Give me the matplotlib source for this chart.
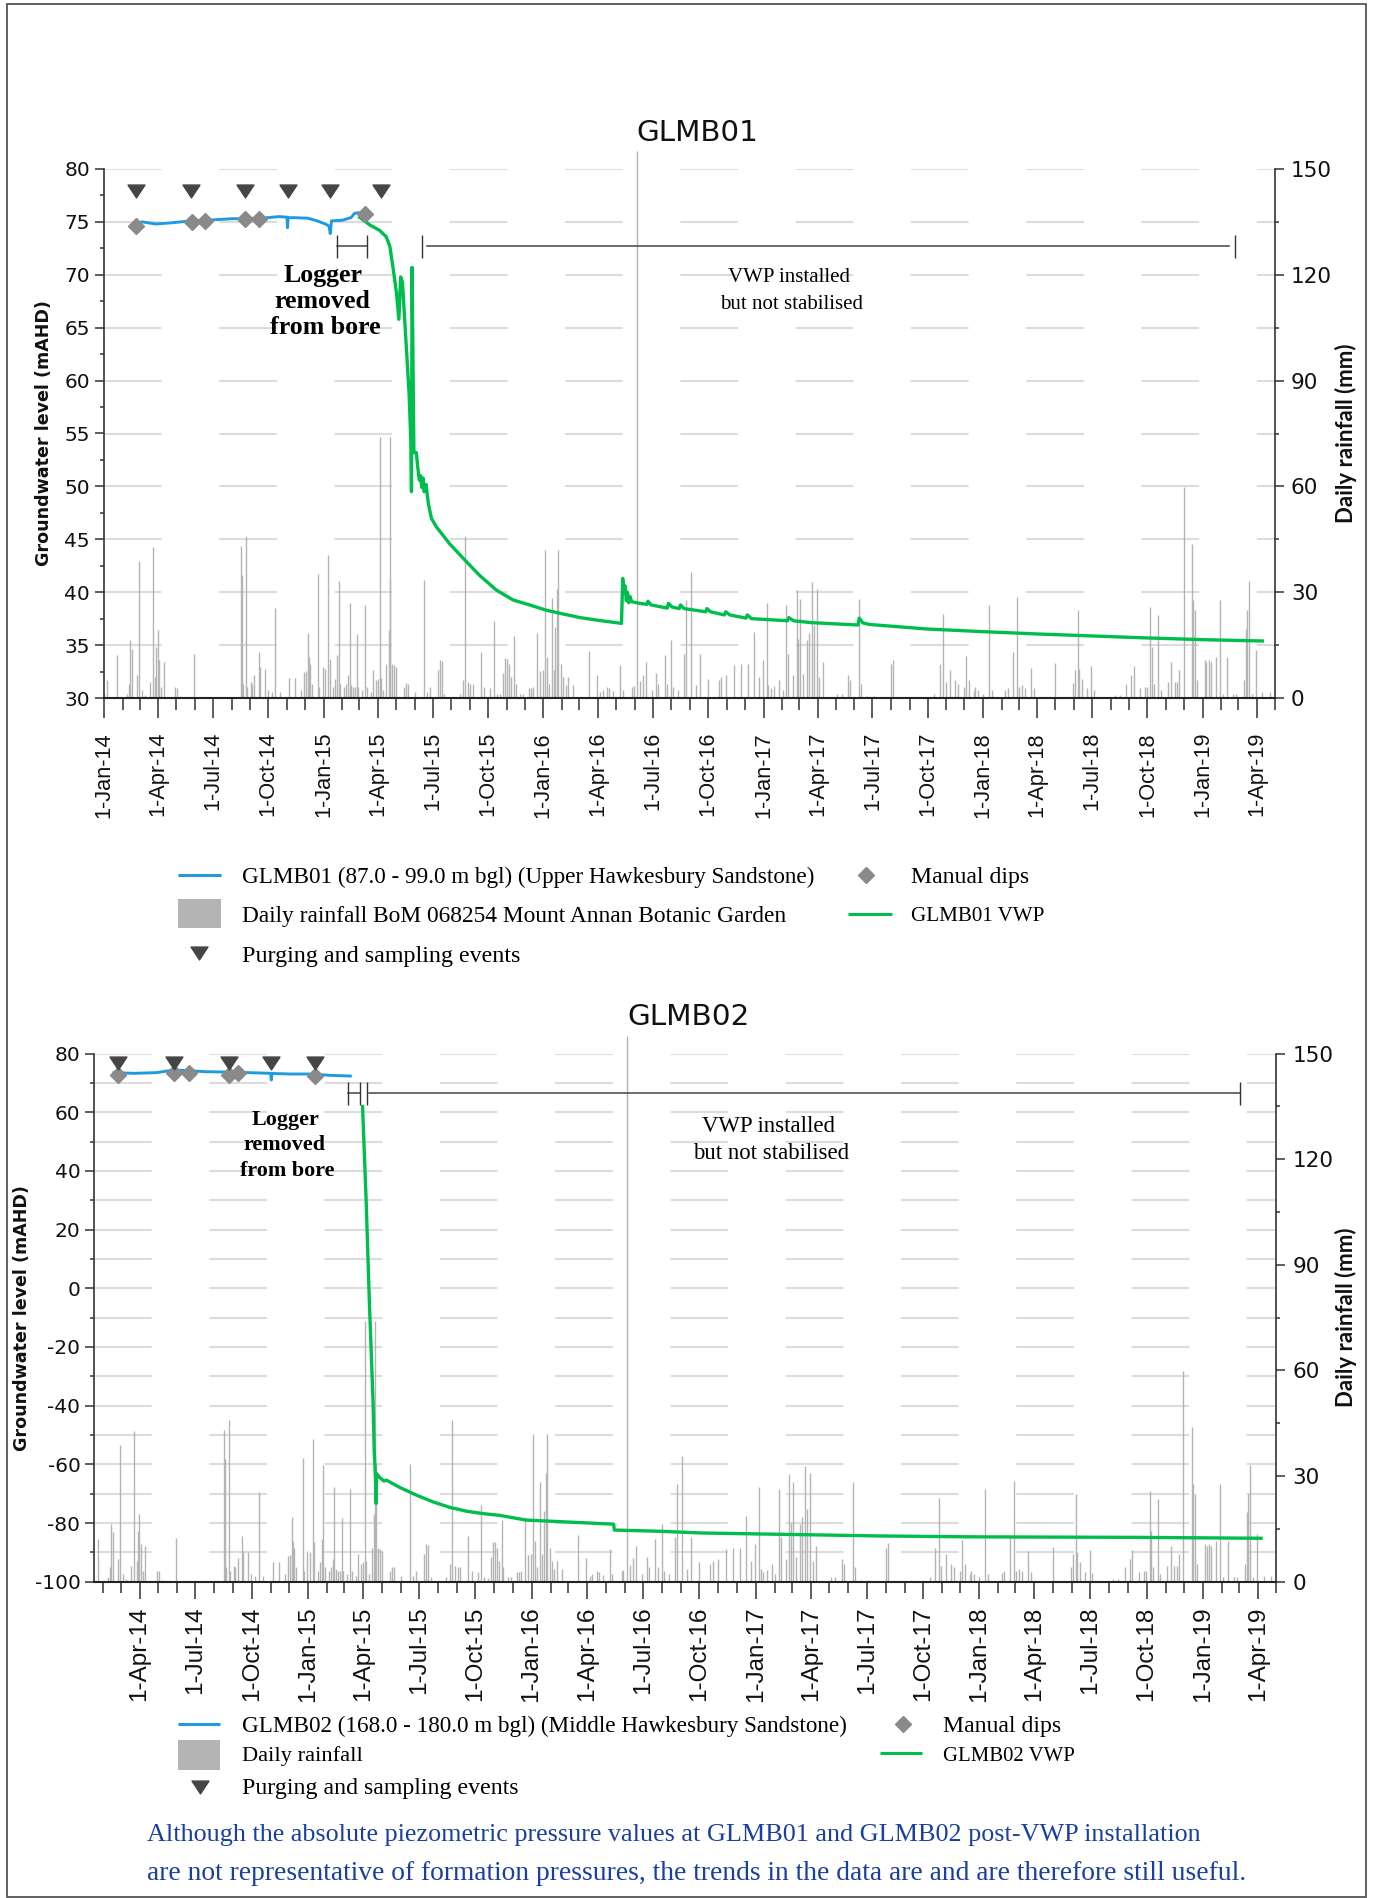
import matplotlib
matplotlib.use("Agg")
import matplotlib.pyplot as plt
import matplotlib.dates as mdates
from matplotlib.ticker import MultipleLocator, FuncFormatter
from matplotlib.patches import Rectangle
from matplotlib.path import Path
import pandas as pd

plt.rcParams['axes.unicode_minus'] = False
plt.rcParams['lines.scale_dashes'] = False

# ---------------- data ----------------
rain_dates = [
    "2014-01-01", "2014-01-06", "2014-01-23", "2014-02-08", "2014-02-12", "2014-02-14", "2014-02-16",
    "2014-02-25", "2014-02-28", "2014-03-05", "2014-03-10", "2014-03-18", "2014-03-23", "2014-03-27",
    "2014-03-29", "2014-03-31", "2014-04-03", "2014-04-06", "2014-04-10", "2014-04-29", "2014-05-02",
    "2014-05-08", "2014-05-31", "2014-08-16", "2014-08-18", "2014-08-20", "2014-08-25", "2014-08-27",
    "2014-09-02", "2014-09-04", "2014-09-08", "2014-09-15", "2014-09-17", "2014-09-25", "2014-09-30",
    "2014-10-07", "2014-10-13", "2014-10-20", "2014-11-04", "2014-11-14", "2014-11-25", "2014-11-30",
    "2014-12-03", "2014-12-06", "2014-12-07", "2014-12-09", "2014-12-12", "2014-12-23", "2014-12-25",
    "2014-12-31", "2015-01-04", "2015-01-09", "2015-01-11", "2015-01-17", "2015-01-20", "2015-01-24",
    "2015-01-26", "2015-01-29", "2015-02-04", "2015-02-07", "2015-02-10", "2015-02-13", "2015-02-15",
    "2015-02-19", "2015-02-22", "2015-02-25", "2015-02-27", "2015-03-05", "2015-03-11", "2015-03-14",
    "2015-03-20", "2015-03-24", "2015-03-29", "2015-04-01", "2015-04-04", "2015-04-06", "2015-04-10",
    "2015-04-15", "2015-04-19", "2015-04-21", "2015-04-22", "2015-04-25", "2015-04-28", "2015-05-01",
    "2015-05-15", "2015-05-18", "2015-05-21", "2015-06-02", "2015-06-17", "2015-06-22", "2015-06-27",
    "2015-07-10", "2015-07-13", "2015-07-16", "2015-07-20", "2015-08-15", "2015-08-20", "2015-08-24",
    "2015-08-29", "2015-09-02", "2015-09-06", "2015-09-19", "2015-09-25", "2015-10-05", "2015-10-11",
    "2015-10-16", "2015-10-21", "2015-10-26", "2015-10-30", "2015-11-02", "2015-11-05", "2015-11-09",
    "2015-11-13", "2015-11-16", "2015-11-23", "2015-11-28", "2015-12-08", "2015-12-11", "2015-12-15",
    "2015-12-21", "2015-12-26", "2015-12-31", "2016-01-04", "2016-01-07", "2016-01-10", "2016-01-15",
    "2016-01-18", "2016-01-21", "2016-01-24", "2016-01-26", "2016-01-31", "2016-02-03", "2016-02-07",
    "2016-02-11", "2016-02-20", "2016-03-17", "2016-03-30", "2016-04-05", "2016-04-09", "2016-04-16",
    "2016-04-20", "2016-04-26", "2016-05-08", "2016-05-12", "2016-05-27", "2016-05-30", "2016-06-05",
    "2016-06-09", "2016-06-15", "2016-06-19", "2016-06-30", "2016-07-07", "2016-07-10", "2016-07-21",
    "2016-07-25", "2016-08-01", "2016-08-04", "2016-08-12", "2016-08-22", "2016-08-26", "2016-09-03",
    "2016-09-10", "2016-09-18", "2016-09-30", "2016-10-19", "2016-10-23", "2016-10-31", "2016-11-13",
    "2016-11-24", "2016-12-06", "2016-12-16", "2016-12-25", "2016-12-31", "2017-01-06", "2017-01-09",
    "2017-01-13", "2017-01-19", "2017-01-27", "2017-02-02", "2017-02-08", "2017-02-11", "2017-02-19",
    "2017-02-25", "2017-02-28", "2017-03-03", "2017-03-08", "2017-03-14", "2017-03-18", "2017-03-22",
    "2017-03-26", "2017-03-31", "2017-04-04", "2017-04-10", "2017-05-03", "2017-05-11", "2017-05-21",
    "2017-05-25", "2017-06-09", "2017-06-12", "2017-06-22", "2017-07-04", "2017-08-01", "2017-08-05",
    "2017-10-12", "2017-10-21", "2017-10-27", "2017-10-31", "2017-11-07", "2017-11-15", "2017-11-21",
    "2017-12-01", "2017-12-04", "2017-12-08", "2017-12-16", "2017-12-19", "2017-12-23", "2017-12-31",
    "2018-01-10", "2018-01-15", "2018-02-07", "2018-02-11", "2018-02-20", "2018-02-26", "2018-03-02",
    "2018-03-06", "2018-03-12", "2018-03-22", "2018-03-26", "2018-05-01", "2018-05-30", "2018-06-03",
    "2018-06-07", "2018-06-10", "2018-06-14", "2018-06-22", "2018-06-30", "2018-07-04", "2018-08-08",
    "2018-08-16", "2018-08-27", "2018-09-04", "2018-09-08", "2018-09-19", "2018-09-27", "2018-09-30",
    "2018-10-06", "2018-10-09", "2018-10-12", "2018-10-19", "2018-10-23", "2018-11-04", "2018-11-10",
    "2018-11-15", "2018-11-19", "2018-11-23", "2018-11-30", "2018-12-14", "2018-12-16", "2018-12-19",
    "2018-12-23", "2019-01-04", "2019-01-07", "2019-01-11", "2019-01-15", "2019-01-23", "2019-01-29",
    "2019-02-03", "2019-02-11", "2019-02-20", "2019-02-26", "2019-03-10", "2019-03-14", "2019-03-16",
    "2019-03-19", "2019-03-23", "2019-03-31", "2019-04-10", "2019-04-22",
]
rain_mm = [
    1.0, 5.2, 12.1, 1.2, 4.1, 16.4, 14.0,
    6.4, 38.8, 2.2, 0.8, 4.5, 42.8, 6.0,
    14.5, 19.2, 10.7, 3.1, 10.2, 3.1, 2.9,
    0.5, 12.4, 43.0, 34.8, 4.1, 45.8, 3.1,
    4.5, 4.1, 6.6, 13.1, 8.8, 8.3, 2.2,
    1.7, 25.6, 1.7, 5.7, 5.7, 2.2, 7.4,
    7.7, 18.4, 11.6, 9.7, 4.1, 35.1, 3.1,
    8.8, 8.3, 40.5, 11.2, 3.1, 5.5, 12.1,
    33.2, 4.1, 3.1, 4.1, 6.4, 27.0, 3.6,
    3.1, 3.1, 18.2, 3.1, 2.2, 26.3, 3.1,
    1.7, 7.9, 5.0, 5.5, 74.0, 5.8, 2.2,
    9.7, 19.2, 74.0, 33.8, 9.7, 9.3, 8.8,
    3.1, 4.3, 4.1, 1.7, 33.4, 1.7, 3.1,
    8.0, 10.7, 10.5, 1.2, 1.2, 5.0, 45.8,
    4.5, 4.1, 4.1, 13.1, 3.1, 2.7, 21.7,
    1.2, 1.0, 7.1, 11.3, 11.2, 9.7, 6.0,
    17.5, 4.1, 1.2, 1.2, 2.7, 2.7, 3.1,
    18.4, 7.7, 7.9, 41.9, 11.6, 4.1, 28.4,
    7.9, 20.1, 31.0, 42.0, 9.7, 6.0, 3.6,
    6.0, 3.6, 13.3, 6.6, 1.7, 2.2, 3.1,
    2.8, 2.0, 9.3, 2.2, 3.1, 3.3, 155.0,
    4.7, 6.6, 10.2, 2.2, 7.1, 4.1, 12.1,
    4.1, 16.4, 3.1, 2.2, 12.6, 27.7, 35.7,
    3.6, 12.6, 5.5, 5.0, 6.0, 6.4, 9.3,
    9.7, 9.7, 18.7, 6.0, 10.7, 26.9, 3.6,
    2.7, 3.3, 5.0, 2.2, 26.3, 12.6, 6.4,
    30.7, 16.6, 28.2, 6.9, 16.4, 18.3, 32.9,
    20.6, 31.0, 6.0, 10.2, 1.2, 1.2, 6.4,
    5.0, 28.2, 4.1, 0.5, 0.5, 9.7, 10.9,
    1.2, 9.7, 23.9, 4.5, 7.9, 5.0, 4.1,
    3.1, 11.8, 5.0, 2.2, 3.1, 2.2, 1.2,
    26.3, 2.2, 2.4, 2.9, 13.1, 28.6, 3.1,
    3.6, 2.9, 8.6, 2.8, 9.9, 4.3, 8.0,
    24.9, 8.3, 5.5, 2.7, 9.0, 2.4, 0.8,
    0.8, 4.1, 6.4, 9.0, 2.7, 3.1, 3.1,
    25.8, 14.5, 4.1, 23.4, 2.2, 4.5, 10.2,
    4.5, 4.5, 7.9, 59.8, 43.8, 27.7, 24.9,
    5.0, 10.7, 10.2, 10.7, 10.2, 11.6, 27.7,
    1.2, 11.6, 1.2, 1.2, 5.0, 19.7, 24.9,
    33.2, 1.2, 13.5, 1.7, 1.7,
]

# GLMB01
glmb01_logger_dates = [
    "2014-02-23", "2014-03-06", "2014-03-28", "2014-04-20", "2014-05-27", "2014-07-03", "2014-08-02",
    "2014-08-24", "2014-09-30", "2014-10-18", "2014-11-01", "2014-11-02", "2014-11-03", "2014-11-13",
    "2014-12-06", "2014-12-21", "2015-01-04", "2015-01-10", "2015-01-12", "2015-01-14", "2015-01-19",
    "2015-02-02", "2015-02-16", "2015-02-21", "2015-02-26", "2015-03-04",
]
glmb01_logger_level = [
    74.87, 75.0, 74.8, 74.9, 75.1, 75.2, 75.3,
    75.3, 75.4, 75.5, 75.45, 74.45, 75.4, 75.4,
    75.35, 75.1, 74.8, 74.6, 73.9, 75.1, 75.11,
    75.17, 75.42, 75.8, 75.86, 75.85,
]
glmb01_vwp_dates = [
    "2015-03-02", "2015-03-19", "2015-04-04", "2015-04-15", "2015-04-21", "2015-04-26", "2015-05-02",
    "2015-05-06", "2015-05-09", "2015-05-12", "2015-05-17", "2015-05-23", "2015-05-26", "2015-05-27",
    "2015-05-28", "2015-05-30", "2015-05-31", "2015-06-04", "2015-06-06", "2015-06-09", "2015-06-11",
    "2015-06-13", "2015-06-15", "2015-06-17", "2015-06-20", "2015-06-24", "2015-06-29", "2015-07-07",
    "2015-07-29", "2015-08-21", "2015-09-17", "2015-10-15", "2015-11-12", "2015-12-09", "2016-01-06",
    "2016-02-03", "2016-03-02", "2016-03-29", "2016-05-10", "2016-05-12", "2016-05-14", "2016-05-16",
    "2016-05-18", "2016-05-20", "2016-05-22", "2016-05-24", "2016-05-27", "2016-06-09", "2016-06-21",
    "2016-06-23", "2016-06-28", "2016-07-25", "2016-07-27", "2016-08-02", "2016-08-14", "2016-08-16",
    "2016-08-22", "2016-09-27", "2016-09-29", "2016-10-05", "2016-10-28", "2016-10-30", "2016-11-06",
    "2016-12-03", "2016-12-05", "2016-12-12", "2017-02-10", "2017-02-12", "2017-02-20", "2017-03-22",
    "2017-06-07", "2017-06-09", "2017-06-15", "2017-06-26", "2017-09-30", "2018-01-01", "2018-04-02",
    "2018-07-03", "2018-10-04", "2019-01-04", "2019-04-10",
]
glmb01_vwp_level = [
    75.43, 74.7, 74.2, 73.6, 72.7, 70.8, 68.3,
    65.8, 69.8, 69.3, 64.5, 58.8, 54.1, 49.5,
    70.7, 58.8, 53.2, 53.2, 52.0, 50.6, 51.0,
    49.9, 50.8, 49.5, 50.2, 48.4, 47.0, 46.2,
    44.6, 43.2, 41.6, 40.2, 39.26, 38.8, 38.3,
    37.94, 37.6, 37.37, 37.05, 41.3, 39.9, 40.6,
    39.2, 40.0, 39.0, 39.6, 39.1, 38.95, 38.85,
    39.15, 38.8, 38.5, 38.95, 38.6, 38.45, 38.8,
    38.45, 38.15, 38.45, 38.15, 37.85, 38.15, 37.85,
    37.55, 37.85, 37.5, 37.3, 37.6, 37.3, 37.12,
    36.9, 37.55, 37.1, 36.95, 36.52, 36.27, 36.05,
    35.86, 35.67, 35.51, 35.39,
]
glmb01_dip_dates = ["2014-02-23", "2014-05-27", "2014-06-18", "2014-08-24", "2014-09-16", "2015-03-11"]
glmb01_dip_level = [74.61, 74.99, 75.12, 75.27, 75.27, 75.75]
glmb01_purge_dates = ["2014-02-23", "2014-05-25", "2014-08-24", "2014-11-02", "2015-01-12", "2015-04-06"]
glmb01_purge_level = [77.95, 77.95, 77.95, 77.95, 77.95, 77.95]

# GLMB02
glmb02_logger_dates = [
    "2014-02-18", "2014-03-23", "2014-04-28", "2014-05-27", "2014-06-18", "2014-07-17", "2014-08-16",
    "2014-09-28", "2014-11-01", "2014-11-02", "2014-11-03", "2014-12-03", "2015-01-08", "2015-02-06",
    "2015-03-11",
]
glmb02_logger_level = [
    73.46, 73.24, 73.47, 74.37, 74.15, 73.8, 73.69,
    73.47, 73.24, 70.97, 73.2, 73.01, 73.01, 72.55,
    72.33,
]
glmb02_vwp_dates = [
    "2015-03-31", "2015-04-06", "2015-04-11", "2015-04-17", "2015-04-19", "2015-04-21", "2015-04-22",
    "2015-04-23", "2015-04-28", "2015-05-05", "2015-05-09", "2015-05-31", "2015-06-27", "2015-07-24",
    "2015-08-21", "2015-09-17", "2015-10-14", "2015-11-10", "2015-12-23", "2016-03-04", "2016-05-14",
    "2016-05-15", "2016-07-26", "2016-10-05", "2017-02-25", "2017-07-19", "2017-12-09", "2018-05-01",
    "2018-09-21", "2019-04-06",
]
glmb02_vwp_level = [
    61.9, 29.0, -4.0, -38.1, -55.2, -64.3, -73.3,
    -63.2, -64.5, -65.7, -65.4, -67.9, -70.5, -72.8,
    -74.7, -76.0, -76.8, -77.4, -79.0, -79.7, -80.4,
    -82.4, -82.8, -83.4, -83.9, -84.4, -84.7, -84.8,
    -84.9, -85.2,
]
glmb02_dip_dates = ["2014-02-24", "2014-05-27", "2014-06-20", "2014-08-25", "2014-09-08", "2015-01-13"]
glmb02_dip_level = [72.67, 73.46, 73.46, 72.67, 73.24, 72.33]
glmb02_purge_dates = ["2014-02-24", "2014-05-27", "2014-08-25", "2014-11-02", "2015-01-13"]
glmb02_purge_level = [76.7, 76.7, 76.7, 76.7, 76.7]

# ---------------- styling ----------------
W, H, DPI = 1375, 1898, 100
BLUE = '#1E9BDF'
GREEN = '#00BE4E'
RAIN = '#B4B4B4'
DIP = '#8A8A8A'
TRI = '#454545'
GRID = '#DCDCDC'
AXC = '#333333'
NOTE = '#1B3F9E'

TRI_MARKER = Path([(-1, 0.76), (1, 0.76), (0, -0.76), (-1, 0.76)],
                  [Path.MOVETO, Path.LINETO, Path.LINETO, Path.CLOSEPOLY])

fig = plt.figure(figsize=(W / DPI, H / DPI), dpi=DPI)
fig.patch.set_facecolor('white')


def fmt_date(x, pos):
    d = mdates.num2date(x)
    return f"{d.day}-{d.strftime('%b-%y')}"


def T(s):
    return pd.Timestamp(s)


def panel(rect, xlim, ylim, ymaj, ymin, grid_levels, xt_size, xt_pad, maj_len, min_len,
          logger, vwp, dips, purge):
    l, t, r, b = rect
    ax = fig.add_axes([l / W, 1 - b / H, (r - l) / W, (b - t) / H])
    ax2 = ax.twinx()
    ax.set_zorder(3)
    ax2.set_zorder(2)
    ax.patch.set_visible(False)
    x0, x1 = T(xlim[0]), T(xlim[1])
    ax.set_xlim(x0, x1)
    ax.set_ylim(*ylim)
    ax2.set_ylim(0, 150)

    # grid (drawn under the rain, in level units)
    ax2.hlines(grid_levels, 0, 1, transform=ax.get_yaxis_transform(), colors=GRID,
               linewidth=1.5, linestyles=[(0, (41.5, 41.5))], zorder=0)

    # rainfall
    rd = pd.to_datetime(rain_dates)
    mask = (rd >= x0) & (rd <= x1)
    ax2.vlines(rd[mask], 0, [v for v, m in zip(rain_mm, mask) if m], colors=RAIN,
               linewidth=1.0, clip_on=False, zorder=1)

    # series
    ax.plot(pd.to_datetime(logger[0]), logger[1], color=BLUE, lw=2.1, zorder=3)
    ax.plot(pd.to_datetime(vwp[0]), vwp[1], color=GREEN, lw=2.4, zorder=4,
            solid_joinstyle='round')
    ax.plot(pd.to_datetime(dips[0]), dips[1], ls='none', marker='D', ms=8.2, color=DIP,
            zorder=5)
    ax.plot(pd.to_datetime(purge[0]), purge[1], ls='none', marker=TRI_MARKER, ms=12.2,
            color=TRI, zorder=6)

    # axes styling
    for s in ['top', 'right']:
        ax.spines[s].set_visible(False)
    for s in ['top', 'left', 'bottom']:
        ax2.spines[s].set_visible(False)
    ax.spines['left'].set_color(AXC)
    ax.spines['left'].set_linewidth(1.2)
    ax.spines['bottom'].set_color('#222222')
    ax.spines['bottom'].set_linewidth(1.5)
    ax2.spines['right'].set_color(AXC)
    ax2.spines['right'].set_linewidth(1.2)

    ax.xaxis.set_major_locator(mdates.MonthLocator(bymonth=[1, 4, 7, 10]))
    ax.xaxis.set_minor_locator(mdates.MonthLocator())
    ax.xaxis.set_major_formatter(FuncFormatter(fmt_date))
    ax.tick_params(axis='x', which='major', length=maj_len, width=1.1, color=AXC,
                   pad=xt_pad, labelsize=xt_size, labelrotation=90,
                   labelfontfamily='Liberation Sans', labelcolor='#111111')
    ax.tick_params(axis='x', which='minor', length=min_len, width=1.1, color=AXC)

    ax.yaxis.set_major_locator(MultipleLocator(ymaj))
    ax.yaxis.set_minor_locator(MultipleLocator(ymin))
    ax.tick_params(axis='y', which='major', length=6.5, width=1.1, color=AXC, pad=3.5,
                   labelsize=14.5, labelfontfamily='DejaVu Sans', labelcolor='#111111')
    ax.tick_params(axis='y', which='minor', length=3, width=1.1, color=AXC)

    ax2.yaxis.set_major_locator(MultipleLocator(30))
    ax2.yaxis.set_minor_locator(MultipleLocator(15))
    ax2.tick_params(axis='y', which='major', length=6.5, width=1.1, color=AXC, pad=5,
                    labelsize=15.5, labelfontfamily='DejaVu Sans', labelcolor='#111111')
    ax2.tick_params(axis='y', which='minor', length=3, width=1.1, color=AXC)
    return ax, ax2


def bracket_h(ax, d0, d1, y, dy):
    ax.plot([T(d0), T(d1)], [y, y], color='#444444', lw=1.1, zorder=2)
    ax.vlines([T(d0), T(d1)], y - dy, y + dy, color='#333333', lw=1.0, zorder=2)


def tick_v(ax, d, y, dy):
    ax.vlines([T(d)], y - dy, y + dy, color='#333333', lw=1.0, zorder=2)


def line_h(ax, d0, d1, y):
    ax.plot([T(d0), T(d1)], [y, y], color='#444444', lw=1.1, zorder=2)


# top panel
ax_a, ax_a2 = panel((104, 169, 1275, 698), ("2014-01-01", "2019-05-01"), (30, 80), 5, 2.5,
                    [35, 40, 45, 50, 55, 60, 65, 70, 75, 80], 15.7, 10, 14.4, 8.4,
                    (glmb01_logger_dates, glmb01_logger_level),
                    (glmb01_vwp_dates, glmb01_vwp_level),
                    (glmb01_dip_dates, glmb01_dip_level),
                    (glmb01_purge_dates, glmb01_purge_level))
bracket_h(ax_a, "2015-01-23", "2015-03-14", 72.7, 1.1)
tick_v(ax_a, "2015-06-14", 72.7, 1.1)
line_h(ax_a, "2015-06-21", "2019-02-14", 72.7)
tick_v(ax_a, "2019-02-24", 72.7, 1.1)

# bottom panel
ax_b, ax_b2 = panel((94.3, 1053.5, 1276.4, 1581.7), ("2014-01-17", "2019-05-01"), (-100, 80), 20, 10,
                    [-90, -80, -70, -60, -50, -40, -30, -20, -10, 0, 10, 20, 30, 40, 50, 60, 70, 80],
                    17.5, 5.5, 12.2, 7.9,
                    (glmb02_logger_dates, glmb02_logger_level),
                    (glmb02_vwp_dates, glmb02_vwp_level),
                    (glmb02_dip_dates, glmb02_dip_level),
                    (glmb02_purge_dates, glmb02_purge_level))
bracket_h(ax_b, "2015-03-08", "2015-03-26", 66.4, 3.9)
tick_v(ax_b, "2015-04-08", 66.4, 3.9)
line_h(ax_b, "2015-04-11", "2019-03-02", 66.4)
tick_v(ax_b, "2019-03-02", 66.4, 3.9)

# ---------------- overlay (pixel coordinates) ----------------
ov = fig.add_axes([0, 0, 1, 1])
ov.set_xlim(0, W)
ov.set_ylim(H, 0)
ov.axis('off')
ov.set_zorder(10)
ov.patch.set_visible(False)
renderer = fig.canvas.get_renderer()


def txt(x, y, s, width=None, size=14, ha='left', va='center_baseline', **kw):
    t = ov.text(x, y, s, ha=ha, va=va, fontsize=size, **kw)
    if width is not None:
        w = t.get_window_extent(renderer).width
        t.set_fontsize(size * width / w)
    return t


def fit_group(texts, idx, width):
    w = texts[idx].get_window_extent(renderer).width
    f = width / w
    for t in texts:
        t.set_fontsize(t.get_fontsize() * f)


ov.add_patch(Rectangle((6.7, 4), 1359.8, 1892.7, fill=False, ec='#555555', lw=1.3))

# titles
txt(697.5, 133, "GLMB01", 122, 21, ha='center', va='center', family='DejaVu Sans', color='#111111')
txt(688.3, 1016.7, "GLMB02", 122, 21, ha='center', va='center', family='DejaVu Sans', color='#111111')

# axis titles
ov.text(43.7, 433.5, "Groundwater level (mAHD)", rotation=90, ha='center', va='center',
        fontsize=12.6, family='DejaVu Sans', fontweight='bold', color='#111111')
ov.text(22.5, 1317.6, "Groundwater level (mAHD)", rotation=90, ha='center', va='center',
        fontsize=12.6, family='DejaVu Sans', fontweight='bold', color='#111111')
ov.text(1345.5, 433.5, "Daily rainfall (mm)", rotation=90, ha='center', va='center',
        fontsize=16, family='Lato', fontweight='bold', color='#111111')
ov.text(1345.5, 1317.6, "Daily rainfall (mm)", rotation=90, ha='center', va='center',
        fontsize=16, family='Lato', fontweight='bold', color='#111111')

SERIF = 'Liberation Serif'
# annotations top
g = [txt(323, 273, "Logger", None, 17, ha='center', family=SERIF, fontweight='bold'),
     txt(322.5, 299, "removed", None, 17, ha='center', family=SERIF, fontweight='bold'),
     txt(325.5, 325, "from bore", None, 17, ha='center', family=SERIF, fontweight='bold')]
fit_group(g, 1, 96)
g = [txt(789.4, 275, "VWP installed", None, 15, ha='center', family=SERIF),
     txt(792, 301.7, "but not stabilised", None, 15, ha='center', family=SERIF)]
fit_group(g, 1, 143)
# annotations bottom
g = [txt(285, 1118, "Logger", None, 15, ha='center', family=SERIF, fontweight='bold'),
     txt(284, 1143, "removed", None, 15, ha='center', family=SERIF, fontweight='bold'),
     txt(287, 1169, "from bore", None, 15, ha='center', family=SERIF, fontweight='bold')]
fit_group(g, 1, 82)
g = [txt(768.3, 1124, "VWP installed", None, 15, ha='center', family=SERIF),
     txt(771, 1150.7, "but not stabilised", None, 15, ha='center', family=SERIF)]
fit_group(g, 1, 156)


# legends
def leg_line(x0, x1, y, c):
    ov.plot([x0, x1], [y, y], color=c, lw=2.2, solid_capstyle='butt')


leg_line(178, 221, 874.5, BLUE)
txt(242, 874.5, "GLMB01 (87.0 - 99.0 m bgl) (Upper Hawkesbury Sandstone)", 574, 16, family=SERIF)
ov.plot([866], [874.5], marker='D', ms=8.5, color=DIP, ls='none')
txt(911, 874.5, "Manual dips", 118, 16, family=SERIF)
ov.add_patch(Rectangle((178, 899), 43, 29, color=RAIN, lw=0))
txt(242, 914, "Daily rainfall BoM 068254 Mount Annan Botanic Garden", 544, 16, family=SERIF)
leg_line(848, 892, 914, GREEN)
txt(911, 914, "GLMB01 VWP", 133, 16, family=SERIF)
ov.plot([199], [953], marker=TRI_MARKER, ms=12.2, color=TRI, ls='none')
txt(242, 954, "Purging and sampling events", 277, 16, family=SERIF)

leg_line(178, 220, 1724, BLUE)
txt(242, 1724, "GLMB02 (168.0 - 180.0 m bgl) (Middle Hawkesbury Sandstone)", 605, 16, family=SERIF)
ov.plot([903], [1724], marker='D', ms=8.5, color=DIP, ls='none')
txt(942.6, 1724, "Manual dips", 118, 16, family=SERIF)
ov.add_patch(Rectangle((178, 1740), 42, 30, color=RAIN, lw=0))
txt(242, 1754, "Daily rainfall", 120, 16, family=SERIF)
leg_line(880, 922, 1753, GREEN)
txt(942.6, 1754, "GLMB02 VWP", 132, 16, family=SERIF)
ov.plot([200], [1787], marker=TRI_MARKER, ms=12.2, color=TRI, ls='none')
txt(242, 1786, "Purging and sampling events", 276, 16, family=SERIF)

# note
txt(147.5, 1833, "Although the absolute piezometric pressure values at GLMB01 and GLMB02 post-VWP installation",
    1054, 18, family=SERIF, color=NOTE)
txt(147.5, 1870, "are not representative of formation pressures, the trends in the data are and are therefore still useful.",
    1098, 18, family=SERIF, color=NOTE)

fig.savefig("out.png", dpi=DPI, facecolor='white')
